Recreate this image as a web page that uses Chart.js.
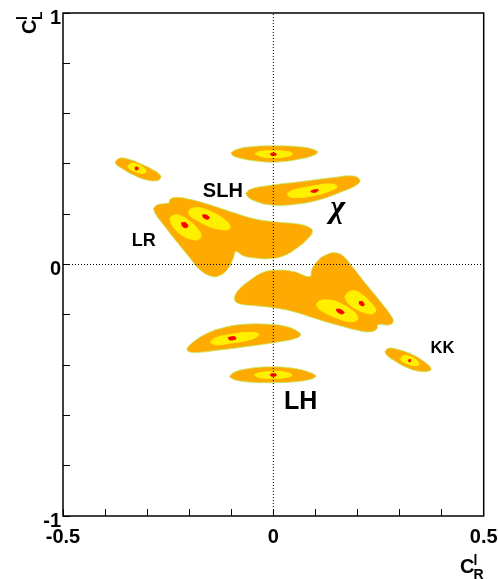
<!DOCTYPE html>
<html>
<head>
<meta charset="utf-8">
<style>
  html, body { margin: 0; padding: 0; background: #fff; }
  canvas { display: block; }
</style>
<script src="https://cdn.jsdelivr.net/npm/chart.js@4"></script>
</head>
<body>
<canvas id="chart" width="498" height="579"></canvas>
<script>
// tick labels
const xTickLabels = [-0.5, 0, 0.5];
const yTickLabels = [-1, 0, 1];

// outer contours (orange), [cR, cL]
const outerTopLeft = [[-.376,.409],[-.365,.423],[-.345,.419],[-.317,.402],[-.285,.376],[-.269,.356],[-.268,.343],[-.277,.333],[-.301,.336],[-.333,.356],[-.360,.382],[-.374,.398],[-.376,.409]];
const outerTopMid = [[-.101,.445],[-.087,.458],[-.055,.468],[0,.472],[.063,.468],[.095,.458],[.105,.446],[.095,.433],[.063,.419],[.008,.407],[-.040,.411],[-.079,.422],[-.097,.434],[-.101,.445]];
const outerChi = [[-.066,.283],[-.055,.299],[-.016,.313],[.063,.329],[.143,.346],[.190,.352],[.206,.336],[.198,.316],[.158,.286],[.103,.254],[.040,.237],[-.008,.237],[-.040,.250],[-.059,.266],[-.066,.283]];
const outerSlhLr = [[-.285,.223],[-.277,.237],[-.257,.243],[-.248,.246],[-.246,.259],[-.230,.267],[-.198,.259],[-.150,.237],[-.095,.207],[-.040,.180],[.016,.168],[.063,.160],[.087,.146],[.093,.131],[.083,.104],[.055,.064],[.024,.034],[-.008,.023],[-.040,.025],[-.071,.034],[-.089,.051],[-.095,.025],[-.107,-.015],[-.127,-.044],[-.147,-.047],[-.174,-.022],[-.198,.025],[-.230,.091],[-.261,.157],[-.281,.203],[-.285,.223]];
const outerLowBig = [[-.093,-.128],[-.083,-.101],[-.055,-.062],[-.024,-.031],[.008,-.022],[.048,-.028],[.087,-.048],[.091,-.022],[.107,.018],[.127,.040],[.147,.047],[.166,.034],[.186,-.005],[.222,-.081],[.261,-.161],[.281,-.207],[.285,-.227],[.277,-.240],[.249,-.240],[.247,-.254],[.234,-.267],[.206,-.264],[.150,-.240],[.103,-.217],[.055,-.191],[.008,-.174],[-.040,-.165],[-.079,-.157],[-.091,-.145],[-.093,-.128]];
const outerLowMid = [[-.206,-.333],[-.190,-.307],[-.158,-.274],[-.119,-.251],[-.071,-.238],[-.008,-.238],[.032,-.247],[.059,-.267],[.065,-.280],[.055,-.293],[.016,-.307],[-.048,-.323],[-.127,-.340],[-.182,-.350],[-.202,-.346],[-.206,-.333]];
const outerLh = [[-.105,-.446],[-.095,-.430],[-.063,-.415],[-.008,-.407],[.048,-.413],[.087,-.429],[.101,-.443],[.091,-.455],[.055,-.466],[0,-.470],[-.055,-.468],[-.091,-.459],[-.105,-.446]];
const outerKk = [[.265,-.346],[.273,-.333],[.293,-.336],[.333,-.360],[.364,-.393],[.375,-.413],[.371,-.423],[.348,-.425],[.317,-.410],[.285,-.380],[.269,-.360],[.265,-.346]];

// inner contours (yellow)
const innerTopLeft = [[-.346,.392],[-.339,.401],[-.325,.400],[-.310,.386],[-.303,.372],[-.306,.364],[-.318,.364],[-.333,.373],[-.343,.382],[-.346,.392]];
const innerTopMid = [[-.044,.441],[-.032,.449],[0,.452],[.032,.449],[.045,.441],[.036,.431],[0,.425],[-.028,.429],[-.044,.441]];
const innerChi = [[.033,.283],[.048,.296],[.095,.312],[.139,.320],[.151,.309],[.135,.293],[.095,.274],[.055,.266],[.038,.270],[.033,.283]];
const innerLr = [[-.246,.184],[-.238,.195],[-.222,.194],[-.198,.170],[-.178,.137],[-.172,.115],[-.178,.100],[-.194,.100],[-.218,.117],[-.238,.150],[-.244,.170],[-.246,.184]];
const innerSlh = [[-.202,.210],[-.194,.223],[-.174,.225],[-.143,.206],[-.115,.177],[-.103,.153],[-.107,.140],[-.127,.140],[-.155,.153],[-.182,.177],[-.198,.194],[-.202,.210]];
const innerLow1 = [[.103,-.157],[.111,-.144],[.131,-.141],[.158,-.154],[.186,-.181],[.200,-.207],[.197,-.223],[.178,-.226],[.147,-.210],[.119,-.188],[.105,-.170],[.103,-.157]];
const innerLow2 = [[.170,-.128],[.178,-.111],[.194,-.105],[.214,-.124],[.234,-.157],[.243,-.181],[.238,-.194],[.222,-.194],[.198,-.178],[.178,-.154],[.170,-.128]];
const innerLowMid = [[-.150,-.309],[-.139,-.293],[-.103,-.278],[-.055,-.270],[-.036,-.275],[-.036,-.284],[-.059,-.300],[-.103,-.313],[-.139,-.319],[-.150,-.309]];
const innerLh = [[-.046,-.439],[-.032,-.430],[0,-.426],[.032,-.429],[.044,-.439],[.032,-.449],[0,-.452],[-.032,-.450],[-.046,-.439]];
const innerKk = [[.303,-.373],[.310,-.362],[.325,-.366],[.341,-.382],[.346,-.395],[.341,-.402],[.326,-.399],[.311,-.389],[.303,-.380],[.303,-.373]];

// best fit spots (red)
const spotTopLeft = [[-.328,.387],[-.322,.387],[-.322,.377],[-.328,.377],[-.328,.387]];
const spotTopMid = [[-.006,.442],[.006,.442],[.006,.435],[-.006,.435],[-.006,.442]];
const spotChi = [[.089,.292],[.098,.297],[.107,.297],[.102,.288],[.091,.288],[.089,.292]];
const spotLr = [[-.218,.166],[-.208,.166],[-.203,.152],[-.208,.146],[-.216,.152],[-.218,.166]];
const spotSlh = [[-.168,.197],[-.160,.197],[-.152,.186],[-.156,.180],[-.166,.186],[-.168,.197]];
const spotLow1 = [[.150,-.178],[.158,-.178],[.168,-.190],[.164,-.197],[.152,-.188],[.150,-.178]];
const spotLow2 = [[.204,-.148],[.212,-.148],[.216,-.160],[.213,-.165],[.205,-.158],[.204,-.148]];
const spotLowMid = [[-.107,-.290],[-.092,-.287],[-.089,-.296],[-.104,-.300],[-.107,-.290]];
const spotLh = [[-.006,-.435],[.006,-.435],[.006,-.443],[-.006,-.443],[-.006,-.435]];
const spotKk = [[.322,-.378],[.326,-.378],[.326,-.386],[.322,-.386],[.322,-.378]];

const outers = [outerTopLeft, outerTopMid, outerChi, outerSlhLr, outerLowBig, outerLowMid, outerLh, outerKk];
const inners = [innerTopLeft, innerTopMid, innerChi, innerLr, innerSlh, innerLow1, innerLow2, innerLowMid, innerLh, innerKk];
const spots = [spotTopLeft, spotTopMid, spotChi, spotLr, spotSlh, spotLow1, spotLow2, spotLowMid, spotLh, spotKk];

// model labels, placed at data coordinates
const modelLabels = [
  { text: 'SLH', x: -0.12, y: 0.291, font: 'bold 20px "Liberation Sans"' },
  { text: 'LR', x: -0.308, y: 0.093, font: 'bold 18px "Liberation Sans"' },
  { text: 'KK', x: 0.402, y: -0.334, font: 'bold 16.5px "Liberation Sans"' },
  { text: 'LH', x: 0.065, y: -0.546, font: 'bold 25px "Liberation Sans"' },
  { text: 'χ', x: 0.153, y: 0.222, font: 'italic bold 32px "Liberation Serif"' }
];

function toPoints(list) {
  return list.map(function(p) { return { x: p[0], y: p[1] }; });
}

function contourSet(list, fillColor, edgeColor, tension, width, order) {
  return {
    data: toPoints(list),
    showLine: true,
    fill: 'shape',
    backgroundColor: fillColor,
    borderColor: edgeColor,
    borderWidth: width,
    tension: tension,
    pointRadius: 0,
    order: order
  };
}

function zeroLine(list) {
  return {
    data: toPoints(list),
    showLine: true,
    fill: false,
    borderColor: '#000',
    borderWidth: 1,
    borderDash: [1, 2],
    pointRadius: 0,
    order: 0
  };
}

const datasets = []
  .concat(outers.map(function(c) { return contourSet(c, '#ffaa00', '#c0ee70', 0.45, 0.8, 3); }))
  .concat(inners.map(function(c) { return contourSet(c, '#fff000', '#fff000', 0.5, 1, 2); }))
  .concat(spots.map(function(c) { return contourSet(c, '#ff0000', '#ff0000', 0.3, 1, 1); }))
  .concat([zeroLine([[-0.5, 0], [0.5, 0]]), zeroLine([[0, -1], [0, 1]])]);

// frame, model labels and axis titles
const annotations = {
  id: 'annotations',
  afterDraw: function(chart) {
    const c = chart.ctx, a = chart.chartArea;
    c.save();
    c.strokeStyle = '#000';
    c.lineWidth = 1.5;
    c.strokeRect(a.left, a.top, a.right - a.left, a.bottom - a.top);

    c.fillStyle = '#000';
    c.textAlign = 'center';
    c.textBaseline = 'middle';
    modelLabels.forEach(function(l) {
      c.font = l.font;
      c.fillText(l.text, chart.scales.x.getPixelForValue(l.x), chart.scales.y.getPixelForValue(l.y));
    });

    // x title: C with l above and R below
    c.textAlign = 'left';
    c.textBaseline = 'alphabetic';
    c.font = 'bold 20px "Liberation Sans"';
    c.fillText('C', 460, 573);
    c.font = 'bold 14px "Liberation Sans"';
    c.fillText('l', 473.5, 565);
    c.fillText('R', 473.5, 579);

    // y title, same thing turned on its side
    c.translate(36, 34);
    c.rotate(-Math.PI / 2);
    c.font = 'bold 20px "Liberation Sans"';
    c.fillText('C', 0, 0);
    c.font = 'bold 14px "Liberation Sans"';
    c.fillText('l', 14, -9);
    c.fillText('L', 14, 6);
    c.restore();
  }
};

function pickLabel(list) {
  return function(v) {
    const hit = list.find(function(t) { return Math.abs(t - v) < 1e-6; });
    return hit === undefined ? '' : String(hit);
  };
}

new Chart(document.getElementById('chart').getContext('2d'), {
  type: 'scatter',
  data: { datasets: datasets },
  plugins: [annotations],
  options: {
    responsive: false,
    animation: false,
    layout: { padding: { top: 13, right: 14.3, left: 0, bottom: 0 } },
    plugins: { legend: { display: false }, tooltip: { enabled: false } },
    scales: {
      x: {
        type: 'linear',
        min: -0.5,
        max: 0.5,
        afterFit: function(s) { s.height = 63; s.paddingLeft = 0; s.paddingRight = 0; },
        border: { display: false },
        grid: { drawOnChartArea: false, tickLength: -7, tickColor: '#000', tickWidth: 1 },
        ticks: {
          stepSize: 0.1,
          autoSkip: false,
          maxRotation: 0,
          padding: 16,
          color: '#000',
          font: { family: '"Liberation Sans"', size: 20, weight: 'bold' },
          callback: pickLabel(xTickLabels)
        }
      },
      y: {
        type: 'linear',
        min: -1,
        max: 1,
        afterFit: function(s) { s.width = 63; s.paddingTop = 0; s.paddingBottom = 0; },
        border: { display: false },
        grid: { drawOnChartArea: false, tickLength: -7, tickColor: '#000', tickWidth: 1 },
        ticks: {
          stepSize: 0.2,
          autoSkip: false,
          padding: 9,
          labelOffset: 5,
          color: '#000',
          font: { family: '"Liberation Sans"', size: 20, weight: 'bold' },
          callback: pickLabel(yTickLabels)
        }
      }
    }
  }
});
</script>
</body>
</html>
